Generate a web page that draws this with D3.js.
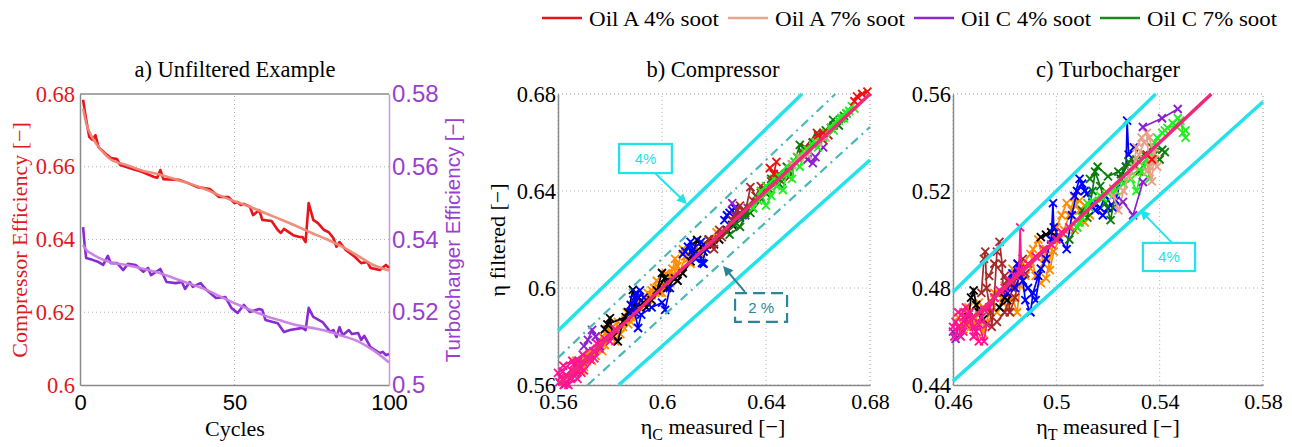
<!DOCTYPE html>
<html>
<head>
<meta charset="utf-8">
<script src="https://cdn.jsdelivr.net/npm/d3@7"></script>
<style>
  body { margin: 0; background: #fff; }
  .serif { font-family: "Liberation Serif", "Times New Roman", serif; }
  .sans { font-family: "Liberation Sans", Arial, sans-serif; }
</style>
</head>
<body>
<script>
// ---- panel a data (cycles vs efficiency) ----
const compCycles = [1,2,3,4,5,6,8,10,12,13,17,20,24,25,26,27,32,35,38,42,45,48,50,51,52,53,55,56,58,59,62,64,65,66,69,71,72,73,74,75.5,77,79,80.5,82,83,84,86,89,91,93,94,97,99,100];
const compRaw = [0.6784,0.6729,0.6682,0.6674,0.6687,0.6654,0.6638,0.6624,0.6621,0.6605,0.6594,0.6586,0.6572,0.657,0.6591,0.6566,0.6564,0.6555,0.6544,0.6539,0.6517,0.6517,0.650,0.6503,0.6495,0.6498,0.649,0.6467,0.6481,0.6454,0.6451,0.6426,0.6418,0.6429,0.6412,0.6407,0.6407,0.6393,0.650,0.6454,0.6445,0.6426,0.642,0.6404,0.638,0.6393,0.6371,0.6352,0.6335,0.6338,0.6322,0.6316,0.633,0.6322];
const turbCycles = [1,1.5,2,4,6,7.5,9,10,12,14,15.5,18,20.5,22,23,26,28,31,33,34,35.5,36.5,39,41,44,47,49,51,53,55,58,59,60,64,66,68,72,73,74,75.5,78.5,81,82,83,84,85,87,88,90,91,92,94,97,98,99,100];
const turbRaw = [0.5434,0.5385,0.5349,0.5344,0.5338,0.533,0.5355,0.5335,0.5335,0.5316,0.5333,0.533,0.5311,0.5322,0.5302,0.5319,0.5283,0.528,0.5283,0.5264,0.5283,0.527,0.528,0.5261,0.5239,0.5242,0.5212,0.5198,0.522,0.5201,0.5209,0.5206,0.5179,0.517,0.5146,0.5151,0.5157,0.5151,0.5212,0.5187,0.5173,0.5146,0.5151,0.5132,0.5159,0.5137,0.5151,0.514,0.5143,0.5124,0.5135,0.5104,0.5088,0.5091,0.5082,0.5085];
const smoothCycles = [1,2,4,6,8,10,15,20,25,30,35,40,45,50,55,60,65,70,75,80,85,90,95,100];
const compSmooth = [0.676,0.672,0.668,0.6655,0.6635,0.662,0.6605,0.659,0.658,0.6568,0.6555,0.654,0.6522,0.6505,0.649,0.6472,0.6455,0.6437,0.6418,0.640,0.638,0.6355,0.633,0.6315];
const turbSmooth = [0.5385,0.5372,0.536,0.535,0.5343,0.5337,0.533,0.532,0.531,0.5295,0.528,0.5265,0.5245,0.5225,0.5207,0.519,0.5177,0.5165,0.5157,0.5148,0.5135,0.512,0.5095,0.5062];

const aXTicks = [0, 50, 100];
const aLeftTicks = [0.6, 0.62, 0.64, 0.66, 0.68];
const aRightTicks = [0.5, 0.52, 0.54, 0.56, 0.58];

// ---- panel b data: [measured, filtered], null = break ----
const bPink = [[0.5605,0.5612],[0.5622,0.5600],[0.5630,0.5640],[0.5618,0.5655],[0.5645,0.5628],[0.5650,0.5662],[0.5668,0.5645],[0.5660,0.5685],[0.5685,0.5670],[0.5678,0.5700],[0.5700,0.5690],[0.5712,0.5715],[0.5695,0.5725],[0.5725,0.5705],[0.5735,0.5740],[0.5640,0.5600],[0.5610,0.5632],[0.5690,0.5650],null,[0.5620,0.5680],[0.5655,0.5700],[0.5700,0.5660],[0.5740,0.5710],[0.5760,0.5750],[0.5780,0.5790],[0.5800,0.5780],[0.5820,0.5830],[0.5750,0.5770],[0.5600,0.5650],[0.5630,0.5605],[0.5675,0.5625]];
const bOrange = [[0.5660,0.5640],[0.5680,0.5690],[0.5700,0.5675],[0.5720,0.5735],[0.5745,0.5720],[0.5760,0.5780],[0.5780,0.5765],[0.5800,0.5815],[0.5815,0.5800],[0.5830,0.5860],[0.5850,0.5840],[0.5865,0.5900],[0.5880,0.5880],[0.5900,0.5935],[0.5920,0.5915],[0.5945,0.5980],[0.5960,0.5970],[0.5980,0.6030],[0.6000,0.6010],[0.6015,0.6060],[0.6035,0.6050],[0.6050,0.6120],[0.6060,0.6090],[0.6080,0.6160],[0.6100,0.6120],[0.6120,0.6150],[0.6140,0.6130],[0.6170,0.6180],[0.6200,0.6200],null,[0.5700,0.5720],[0.5730,0.5700],[0.5770,0.5740],[0.5790,0.5830],[0.5840,0.5810],[0.5870,0.5850],[0.5890,0.5920],[0.5930,0.5960],[0.5950,0.5930],[0.5970,0.6000],[0.5990,0.5980],[0.6020,0.6030],[0.6040,0.6080],[0.6070,0.6070],[0.6090,0.6130],[0.6110,0.6100],[0.6130,0.6170],[0.6150,0.6140],[0.6160,0.6170],[0.6190,0.6190],[0.6210,0.6230],null,[0.5670,0.5700],[0.5690,0.5660],[0.5710,0.5700],[0.5750,0.5750],[0.5770,0.5800],[0.5810,0.5840],[0.5820,0.5780],[0.5860,0.5870],[0.5880,0.5860],[0.5910,0.5900],[0.5940,0.5950],[0.5960,0.5990],[0.6000,0.5980],[0.6030,0.6020]];
const bPurple = [[0.5700,0.5760],[0.5715,0.5786],[0.5731,0.5827],[0.5745,0.5800],[0.5760,0.5760],[0.5740,0.5740],null,[0.6270,0.6350],[0.6290,0.6320],[0.6310,0.6300],[0.6330,0.6330],null,[0.6540,0.6560],[0.6560,0.6530],[0.6580,0.6515],[0.6590,0.6540],[0.6620,0.6580]];
const bBlack = [[0.5780,0.5830],[0.5800,0.5876],[0.5812,0.5800],[0.5830,0.5780],[0.5850,0.5860],[0.5870,0.5900],[0.5888,0.5992],[0.5900,0.5920],[0.5930,0.5940],[0.5960,0.5950],[0.5980,0.5990],[0.6000,0.6062],[0.6020,0.6000],[0.6050,0.6040],[0.6080,0.6060],[0.6110,0.6110],[0.6135,0.6198],[0.6160,0.6150],[0.6200,0.6180],[0.6250,0.6240],[0.6300,0.6300],null,[0.5790,0.5850],[0.5860,0.5880],[0.5910,0.5960],[0.5940,0.5920],[0.6010,0.6040],[0.6060,0.6030],[0.6120,0.6140],[0.6180,0.6200],[0.6220,0.6200],[0.6270,0.6260]];
const bBlue = [[0.5880,0.5930],[0.5900,0.5980],[0.5905,0.5960],[0.5895,0.5900],[0.5908,0.5835],[0.5920,0.5890],[0.5960,0.5920],[0.6000,0.5940],[0.6012,0.5910],[0.6030,0.6000],null,[0.6080,0.6140],[0.6100,0.6170],[0.6115,0.6150],[0.6130,0.6120],[0.6154,0.6103],[0.6170,0.6160],[0.6150,0.6190],null,[0.6240,0.6280],[0.6260,0.6310],[0.6280,0.6330],[0.6300,0.6290],null,[0.5890,0.5950],[0.5915,0.5990],[0.5930,0.5960],[0.5880,0.5900],null,[0.6090,0.6150],[0.6110,0.6190],[0.6120,0.6160],[0.6140,0.6140],[0.6160,0.6100],null,[0.6250,0.6300],[0.6270,0.6320]];
const bBrown = [[0.6180,0.6200],[0.6200,0.6160],[0.6220,0.6240],[0.6250,0.6230],[0.6280,0.6300],[0.6300,0.6340],[0.6320,0.6310],[0.6340,0.6416],[0.6360,0.6380],[0.6390,0.6400],[0.6420,0.6440],[0.6450,0.6470],[0.6490,0.6458],[0.6520,0.6540],[0.6550,0.6580],[0.6596,0.6640],[0.6620,0.6610],[0.6650,0.6660],null,[0.6190,0.6180],[0.6230,0.6210],[0.6270,0.6280],[0.6310,0.6320],[0.6350,0.6360],[0.6380,0.6420],[0.6410,0.6410],[0.6460,0.6440],[0.6500,0.6510],[0.6540,0.6560],[0.6580,0.6600],[0.6640,0.6630]];
const bDarkGreen = [[0.6260,0.6220],[0.6300,0.6252],[0.6320,0.6300],[0.6350,0.6330],[0.6380,0.6370],[0.6420,0.6450],[0.6450,0.6430],[0.6480,0.6500],[0.6510,0.6520],[0.6530,0.6590],[0.6560,0.6570],[0.6600,0.6620],[0.6630,0.6650],[0.6658,0.6693],[0.6680,0.6670],[0.6700,0.6710],null,[0.6280,0.6260],[0.6340,0.6310],[0.6400,0.6390],[0.6440,0.6460],[0.6490,0.6480],[0.6540,0.6550],[0.6580,0.6600],[0.6620,0.6630],[0.6660,0.6670],[0.6690,0.6700],[0.6710,0.6720]];
const bLime = [[0.6350,0.6330],[0.6380,0.6400],[0.6400,0.6340],[0.6420,0.6380],[0.6440,0.6420],[0.6465,0.6404],[0.6480,0.6470],[0.6500,0.6450],[0.6510,0.6520],[0.6530,0.6500],[0.6550,0.6560],[0.6580,0.6590],[0.6600,0.6580],[0.6630,0.6640],[0.6650,0.6660],[0.6680,0.6690],[0.6700,0.6700],[0.6720,0.6730],[0.6740,0.6740],null,[0.6370,0.6360],[0.6410,0.6400],[0.6450,0.6460],[0.6490,0.6490],[0.6520,0.6540],[0.6560,0.6570],[0.6590,0.6600],[0.6620,0.6620],[0.6660,0.6650],[0.6690,0.6700],[0.6710,0.6720],[0.6730,0.6750],[0.6400,0.6420],[0.6430,0.6450]];
const bRed = [[0.6415,0.6495],[0.6430,0.6470],[0.6440,0.6520],null,[0.6600,0.6630],[0.6620,0.6640],null,[0.6740,0.6770],[0.6750,0.6790],[0.6770,0.6800],[0.6790,0.6810]];
const bPeach = [[0.6500,0.6510],[0.6530,0.6540],[0.6560,0.6550],[0.6600,0.6600],[0.6630,0.6620]];

// ---- panel c data ----
const cPink = [[0.4605,0.4600],[0.4620,0.4640],[0.4630,0.4600],[0.4640,0.4680],[0.4650,0.4650],[0.4665,0.4700],[0.4680,0.4640],[0.4700,0.4580],[0.4690,0.4620],[0.4710,0.4680],[0.4720,0.4710],[0.4740,0.4720],[0.4760,0.4760],[0.4780,0.4790],[0.4800,0.4800],[0.4820,0.4830],[0.4840,0.4850],[0.4855,0.4870],[0.4860,0.5050],[0.4865,0.4870],[0.4890,0.4900],[0.4920,0.4930],[0.4950,0.4960],[0.4980,0.4980],[0.5000,0.5000],[0.5020,0.5030],[0.5050,0.5050],null,[0.4610,0.4660],[0.4640,0.4620],[0.4660,0.4690],[0.4680,0.4600],[0.4700,0.4650],[0.4720,0.4580],[0.4730,0.4650],[0.4620,0.4700],[0.4650,0.4720],[0.4600,0.4640]];
const cOrange = [[0.4620,0.4680],[0.4640,0.4630],[0.4660,0.4720],[0.4680,0.4650],[0.4700,0.4700],[0.4716,0.4614],[0.4730,0.4660],[0.4750,0.4740],[0.4770,0.4700],[0.4790,0.4760],[0.4810,0.4720],[0.4830,0.4760],[0.4848,0.4700],[0.4860,0.4810],[0.4880,0.4850],[0.4900,0.4880],[0.4910,0.4960],[0.4930,0.5000],[0.4950,0.4900],[0.4960,0.4960],[0.4975,0.4874],[0.4990,0.4950],[0.5010,0.5000],[0.5030,0.5040],[0.5050,0.5100],[0.5070,0.5175],[0.5090,0.5120],[0.5110,0.5070],[0.5130,0.5100],[0.5070,0.5040],null,[0.4640,0.4700],[0.4670,0.4640],[0.4700,0.4740],[0.4730,0.4700],[0.4760,0.4780],[0.4800,0.4810],[0.4830,0.4880],[0.4850,0.4850],[0.4870,0.4900],[0.4900,0.4940],[0.4920,0.4850],[0.4940,0.4820],[0.4960,0.4840],[0.5000,0.5050],[0.5020,0.5100],[0.5040,0.5150],[0.5060,0.5120],[0.5090,0.5160],[0.5110,0.5140]];
const cBrown = [[0.4710,0.4780],[0.4720,0.4920],[0.4725,0.4950],[0.4730,0.4800],[0.4745,0.4700],[0.4750,0.4640],[0.4760,0.4760],[0.4770,0.4950],[0.4780,0.4990],[0.4790,0.4900],[0.4795,0.4780],[0.4810,0.4830],[0.4820,0.4700],[0.4840,0.4760],[0.4860,0.4880],[0.4880,0.4860],null,[0.4740,0.4850],[0.4760,0.4900],[0.4800,0.4850],[0.4830,0.4800],[0.4850,0.4900],[0.4870,0.4920],[0.4800,0.4700],[0.4770,0.4660]];
const cBlack = [[0.4660,0.4680],[0.4670,0.4760],[0.4680,0.4790],[0.4690,0.4730],[0.4700,0.4700],[0.4716,0.4670],null,[0.4780,0.4720],[0.4800,0.4760],[0.4810,0.4750],null,[0.4940,0.5010],[0.4960,0.5020],[0.4980,0.5030],[0.5000,0.5010]];
const cBlue = [[0.4810,0.4780],[0.4830,0.4860],[0.4850,0.4900],[0.4870,0.4830],[0.4880,0.4750],[0.4900,0.4700],[0.4910,0.4780],[0.4930,0.4850],[0.4960,0.4920],[0.4980,0.5000],[0.4987,0.5150],[0.4990,0.5050],[0.5010,0.5010],[0.5040,0.4960],[0.5060,0.5100],[0.5080,0.5200],[0.5100,0.5230],[0.5120,0.5190],[0.5150,0.5120],[0.5180,0.5100],[0.5200,0.5130],[0.5230,0.5160],[0.5250,0.5250],[0.5270,0.5300],[0.5274,0.5490],[0.5280,0.5350],[0.5300,0.5380],null,[0.4840,0.4800],[0.4860,0.4850],[0.4890,0.4800],[0.4920,0.4750],[0.4940,0.4880],null,[0.5070,0.5180],[0.5090,0.5250],[0.5110,0.5200],[0.5140,0.5150],[0.5170,0.5130],[0.5190,0.5180],[0.5220,0.5130]];
const cDarkGreen = [[0.5050,0.5000],[0.5080,0.5050],[0.5100,0.5120],[0.5120,0.5090],[0.5140,0.5200],[0.5150,0.5280],[0.5170,0.5220],[0.5190,0.5150],[0.5210,0.5080],[0.5230,0.5200],[0.5250,0.5270],[0.5270,0.5300],[0.5300,0.5320],[0.5320,0.5280],[0.5350,0.5330],[0.5380,0.5350],[0.5400,0.5330],[0.5420,0.5360],null,[0.5130,0.5250],[0.5160,0.5300],[0.5200,0.5260],[0.5240,0.5280],[0.5280,0.5320],[0.5310,0.5330],[0.5340,0.5350],[0.5370,0.5380],[0.5410,0.5370]];
const cLime = [[0.5080,0.5050],[0.5100,0.5090],[0.5120,0.5150],[0.5140,0.5160],[0.5170,0.5180],[0.5200,0.5190],[0.5230,0.5200],[0.5260,0.5230],[0.5290,0.5250],[0.5310,0.5200],[0.5330,0.5280],[0.5350,0.5330],[0.5360,0.5250],[0.5370,0.5350],[0.5390,0.5420],[0.5410,0.5440],[0.5430,0.5460],[0.5460,0.5470],[0.5480,0.5490],[0.5490,0.5440],[0.5500,0.5420],null,[0.5090,0.5070],[0.5130,0.5130],[0.5180,0.5170],[0.5220,0.5210],[0.5280,0.5260],[0.5340,0.5300],[0.5380,0.5400],[0.5420,0.5450],[0.5450,0.5480],[0.5470,0.5500],[0.5500,0.5450]];
const cPeach = [[0.5220,0.5180],[0.5240,0.5120],[0.5260,0.5200],[0.5280,0.5260],[0.5300,0.5300],[0.5310,0.5380],[0.5330,0.5420],[0.5350,0.5440],[0.5360,0.5300],[0.5370,0.5240],[0.5380,0.5380],[0.5390,0.5300],null,[0.5290,0.5280],[0.5320,0.5350],[0.5340,0.5400],[0.5360,0.5420],[0.5380,0.5330],[0.5350,0.5280]];
const cPurple = [[0.4600,0.4620],[0.4610,0.4590],[0.4620,0.4640],null,[0.5258,0.5155],[0.5297,0.5100],[0.5335,0.5237],null,[0.5335,0.5464],[0.5409,0.5500],[0.5470,0.5538]];
const cRed = [[0.5350,0.5350],[0.5370,0.5330]];

const bTicks = [0.56, 0.6, 0.64, 0.68];
const cXTicks = [0.46, 0.5, 0.54, 0.58];
const cYTicks = [0.44, 0.48, 0.52, 0.56];

const legendNames = ["Oil A 4% soot", "Oil A 7% soot", "Oil C 4% soot", "Oil C 7% soot"];
const legendColors = ["#e8131b", "#eba58e", "#8a2bd2", "#1b8a1b"];

const col = {
  pink: "#ff1493", orange: "#ff8c00", purple: "#8b1fd0", black: "#000000",
  blue: "#0000ff", brown: "#a52a2a", dgreen: "#0b7d0b", lime: "#22ee22",
  red: "#ee1111", peach: "#e8a08a"
};

const SERIF = "'Liberation Serif', 'Times New Roman', serif";
const SANS = "'Liberation Sans', Arial, sans-serif";

const width = 1292, height = 447;
const svg = d3.select("body").append("svg")
  .attr("width", width).attr("height", height);

const fmt = d => String(+d.toFixed(2));

function grid(g, x, y, xt, yt) {
  g.selectAll(".gx").data(xt).enter().append("line")
    .attr("x1", d => x(d)).attr("x2", d => x(d))
    .attr("y1", y.range()[0]).attr("y2", y.range()[1])
    .attr("stroke", "#b5b5b5").attr("stroke-width", 1).attr("stroke-dasharray", "1,3");
  g.selectAll(".gy").data(yt).enter().append("line")
    .attr("y1", d => y(d)).attr("y2", d => y(d))
    .attr("x1", x.range()[0]).attr("x2", x.range()[1])
    .attr("stroke", "#b5b5b5").attr("stroke-width", 1).attr("stroke-dasharray", "1,3");
}

function styleAxis(g, color, family, size) {
  g.attr("font-family", null).attr("font-size", null);
  g.select(".domain").attr("stroke", "#8a8a8a").attr("stroke-width", 1.5);
  g.selectAll(".tick line").remove();
  g.selectAll("text").attr("fill", color)
    .style("font-family", family).style("font-size", size + "px");
}

// ================= panel a =================
const ax = d3.scaleLinear().domain([0, 100]).range([80, 389]);
const ayL = d3.scaleLinear().domain([0.6, 0.68]).range([385, 94]);
const ayR = d3.scaleLinear().domain([0.5, 0.58]).range([385, 94]);
const ga = svg.append("g");
grid(ga, ax, ayL, [50], [0.62, 0.64, 0.66]);
ga.append("line").attr("x1", ax(0)).attr("x2", ax(100)).attr("y1", ayL(0.68)).attr("y2", ayL(0.68))
  .attr("stroke", "#8a8a8a").attr("stroke-width", 1.5);

ga.append("g").attr("transform", `translate(0,${ayL(0.6)})`)
  .call(d3.axisBottom(ax).tickValues(aXTicks).tickSize(0).tickPadding(9))
  .call(g => styleAxis(g, "#000", SANS, 22));
ga.append("g").attr("transform", `translate(${ax(0)},0)`)
  .call(d3.axisLeft(ayL).tickValues(aLeftTicks).tickFormat(fmt).tickSize(0).tickPadding(5))
  .call(g => styleAxis(g, "#e0181e", SERIF, 22.5));
ga.append("g").attr("transform", `translate(${ax(100)},0)`)
  .call(d3.axisRight(ayR).tickValues(aRightTicks).tickFormat(fmt).tickSize(0).tickPadding(3))
  .call(g => styleAxis(g, "#9a3fd0", SANS, 24))
  .call(g => g.select(".domain").attr("stroke", "#c59ae0"));

const lineA = (ys, cyc, yScale) => d3.line().x((d, i) => ax(cyc[i])).y(d => yScale(d))(ys);
const lineS = (ys, yScale) => d3.line().curve(d3.curveMonotoneX).x((d, i) => ax(smoothCycles[i])).y(d => yScale(d))(ys);

ga.append("path").attr("d", lineA(compRaw, compCycles, ayL)).attr("fill", "none")
  .attr("stroke", "#e8131b").attr("stroke-width", 2.6).attr("stroke-linejoin", "round");
ga.append("path").attr("d", lineS(compSmooth, ayL)).attr("fill", "none")
  .attr("stroke", "#ee8a78").attr("stroke-width", 2.6).attr("opacity", 0.95);
ga.append("path").attr("d", lineA(turbRaw, turbCycles, ayR)).attr("fill", "none")
  .attr("stroke", "#8a2bd2").attr("stroke-width", 2.6).attr("stroke-linejoin", "round");
ga.append("path").attr("d", lineS(turbSmooth, ayR)).attr("fill", "none")
  .attr("stroke", "#c87fe0").attr("stroke-width", 2.6).attr("opacity", 0.95);

svg.append("text").attr("class", "serif").attr("x", 235).attr("y", 77).attr("text-anchor", "middle")
  .attr("font-size", 22.5).text("a) Unfiltered Example");
svg.append("text").attr("class", "serif").attr("x", 235).attr("y", 436).attr("text-anchor", "middle")
  .attr("font-size", 22).text("Cycles");
svg.append("text").attr("class", "serif").attr("transform", "translate(27,240) rotate(-90)")
  .attr("text-anchor", "middle").attr("font-size", 22).attr("fill", "#e0181e")
  .text("Compressor Efficiency [\u2212]");
svg.append("text").attr("class", "sans").attr("transform", "translate(460,240) rotate(-90)")
  .attr("text-anchor", "middle").attr("font-size", 20.5).attr("fill", "#9a3fd0")
  .text("Turbocharger Efficiency [\u2212]");

// ================= scatter panels =================
const xMark = "M-4,-4L4,4M-4,4L4,-4";

function scatterPanel(x, y, xt, yt, series) {
  const g = svg.append("g");
  grid(g, x, y, xt, yt);
  g.append("line").attr("x1", x.range()[0]).attr("x2", x.range()[1]).attr("y1", y.range()[1]).attr("y2", y.range()[1])
    .attr("stroke", "#b5b5b5").attr("stroke-dasharray", "1,3");
  g.append("line").attr("x1", x.range()[1]).attr("x2", x.range()[1]).attr("y1", y.range()[0]).attr("y2", y.range()[1])
    .attr("stroke", "#b5b5b5").attr("stroke-dasharray", "1,3");
  g.append("g").attr("transform", `translate(0,${y.range()[0]})`)
    .call(d3.axisBottom(x).tickValues(xt).tickFormat(fmt).tickSize(0).tickPadding(8))
    .call(a => styleAxis(a, "#000", SERIF, 22));
  g.append("g").attr("transform", `translate(${x.range()[0]},0)`)
    .call(d3.axisLeft(y).tickValues(yt).tickFormat(fmt).tickSize(0).tickPadding(2))
    .call(a => styleAxis(a, "#000", SERIF, 22.5));
  const marks = g.append("g");
  const ln = d3.line().defined(d => d).x(d => x(d[0])).y(d => y(d[1]));
  series.forEach(s => {
    marks.append("path").attr("d", ln(s.data)).attr("fill", "none")
      .attr("stroke", s.color).attr("stroke-width", 1.7);
    marks.selectAll(null).data(s.data.filter(d => d)).enter().append("path")
      .attr("transform", d => `translate(${x(d[0])},${y(d[1])})`)
      .attr("d", xMark).attr("stroke", s.color).attr("stroke-width", 1.9);
  });
  return g;
}

function refLine(g, x, y, k, x0, x1, color, w, dash) {
  // y = k * x, clipped to the plot area
  const [xa, xb] = x.domain(), [ya, yb] = y.domain();
  const lo = Math.max(x0, xa, ya / k), hi = Math.min(x1, xb, yb / k);
  g.append("line").attr("x1", x(lo)).attr("y1", y(k * lo)).attr("x2", x(hi)).attr("y2", y(k * hi))
    .attr("stroke", color).attr("stroke-width", w).attr("stroke-dasharray", dash || null);
}

function arrow(g, x, y, from, to, color) {
  const x1 = x(from[0]), y1 = y(from[1]), x2 = x(to[0]), y2 = y(to[1]);
  const ang = Math.atan2(y2 - y1, x2 - x1);
  g.append("line").attr("x1", x1).attr("y1", y1)
    .attr("x2", x2 - 8 * Math.cos(ang)).attr("y2", y2 - 8 * Math.sin(ang))
    .attr("stroke", color).attr("stroke-width", 2);
  g.append("path").attr("d", "M0,0L-10,-5L-10,5Z").attr("fill", color)
    .attr("transform", `translate(${x2},${y2}) rotate(${ang * 180 / Math.PI})`);
}

function labelBox(g, x, y, box, text, color, dash) {
  const x0 = x(box[0]), x1 = x(box[1]), y0 = y(box[2]), y1 = y(box[3]);
  g.append("rect").attr("x", x0).attr("y", y0).attr("width", x1 - x0).attr("height", y1 - y0)
    .attr("fill", "#fff").attr("stroke", color).attr("stroke-width", 2.2)
    .attr("stroke-dasharray", dash || null);
  g.append("text").attr("class", "sans").attr("x", (x0 + x1) / 2).attr("y", (y0 + y1) / 2 + 5)
    .attr("text-anchor", "middle").attr("font-size", 15).attr("fill", color).text(text);
}

const cyan = "#22e3ea", teal = "#4ab8b4", dteal = "#2a8595", diag = "#f0287a";

// ---- panel b ----
const bx = d3.scaleLinear().domain([0.56, 0.68]).range([558, 870]);
const by = d3.scaleLinear().domain([0.56, 0.68]).range([385, 94]);
const gb = scatterPanel(bx, by, bTicks, bTicks, [
  { data: bOrange, color: col.orange }, { data: bBlack, color: col.black },
  { data: bBlue, color: col.blue }, { data: bPurple, color: col.purple },
  { data: bBrown, color: col.brown }, { data: bDarkGreen, color: col.dgreen },
  { data: bLime, color: col.lime }, { data: bPeach, color: col.peach },
  { data: bRed, color: col.red }, { data: bPink, color: col.pink }
]);
refLine(gb, bx, by, 1.04, 0.56, 0.68, cyan, 3.5);
refLine(gb, bx, by, 0.96, 0.56, 0.68, cyan, 3.5);
refLine(gb, bx, by, 1.02, 0.56, 0.68, teal, 2.2, "9,5,2,5");
refLine(gb, bx, by, 0.98, 0.56, 0.68, teal, 2.2, "9,5,2,5");
refLine(gb, bx, by, 1.0, 0.56, 0.68, diag, 3.5);
arrow(gb, bx, by, [0.5973, 0.6474], [0.6096, 0.6346], cyan);
labelBox(gb, bx, by, [0.5835, 0.6038, 0.6594, 0.6474], "4%", cyan);
arrow(gb, bx, by, [0.6319, 0.5984], [0.6235, 0.6091], dteal);
labelBox(gb, bx, by, [0.6281, 0.6481, 0.5979, 0.5860], "2 %", dteal, "12,6");

svg.append("text").attr("class", "serif").attr("x", 713).attr("y", 77).attr("text-anchor", "middle")
  .attr("font-size", 22.5).text("b) Compressor");
const bxl = svg.append("text").attr("class", "serif").attr("x", 713).attr("y", 434)
  .attr("text-anchor", "middle").attr("font-size", 22);
bxl.append("tspan").text("\u03b7");
bxl.append("tspan").attr("dy", 6).attr("font-size", 16).text("C");
bxl.append("tspan").attr("dy", -6).text(" measured [\u2212]");
svg.append("text").attr("class", "serif").attr("transform", "translate(505,240) rotate(-90)")
  .attr("text-anchor", "middle").attr("font-size", 22).text("\u03b7 filtered [\u2212]");

// ---- panel c ----
const cx = d3.scaleLinear().domain([0.46, 0.58]).range([953, 1263]);
const cy = d3.scaleLinear().domain([0.44, 0.56]).range([385, 94]);
const gc = scatterPanel(cx, cy, cXTicks, cYTicks, [
  { data: cOrange, color: col.orange }, { data: cBrown, color: col.brown },
  { data: cBlack, color: col.black }, { data: cBlue, color: col.blue },
  { data: cDarkGreen, color: col.dgreen }, { data: cLime, color: col.lime },
  { data: cPeach, color: col.peach }, { data: cRed, color: col.red },
  { data: cPurple, color: col.purple }, { data: cPink, color: col.pink }
]);
refLine(gc, cx, cy, 1.04, 0.46, 0.58, cyan, 3.5);
refLine(gc, cx, cy, 0.96, 0.46, 0.58, cyan, 3.5);
refLine(gc, cx, cy, 1.0, 0.4625, 0.58, diag, 3.5);
arrow(gc, cx, cy, [0.5448, 0.4986], [0.5324, 0.5122], cyan);
labelBox(gc, cx, cy, [0.5335, 0.5537, 0.4986, 0.4870], "4%", cyan);

svg.append("text").attr("class", "serif").attr("x", 1108).attr("y", 77).attr("text-anchor", "middle")
  .attr("font-size", 22.5).text("c) Turbocharger");
const cxl = svg.append("text").attr("class", "serif").attr("x", 1108).attr("y", 434)
  .attr("text-anchor", "middle").attr("font-size", 22);
cxl.append("tspan").text("\u03b7");
cxl.append("tspan").attr("dy", 6).attr("font-size", 16).text("T");
cxl.append("tspan").attr("dy", -6).text(" measured [\u2212]");

// ================= legend =================
const legX = d3.scalePoint().domain(legendNames).range([542, 1100]);
const leg = svg.append("g").selectAll("g").data(legendNames).enter().append("g")
  .attr("transform", d => `translate(${legX(d)},18)`);
leg.append("line").attr("x1", 0).attr("x2", 40).attr("y1", 0).attr("y2", 0)
  .attr("stroke", (d, i) => legendColors[i]).attr("stroke-width", 2.5);
leg.append("text").attr("class", "serif").attr("x", 47).attr("y", 8)
  .attr("font-size", 22).attr("textLength", 130).attr("lengthAdjust", "spacingAndGlyphs")
  .text(d => d);
</script>
</body>
</html>
